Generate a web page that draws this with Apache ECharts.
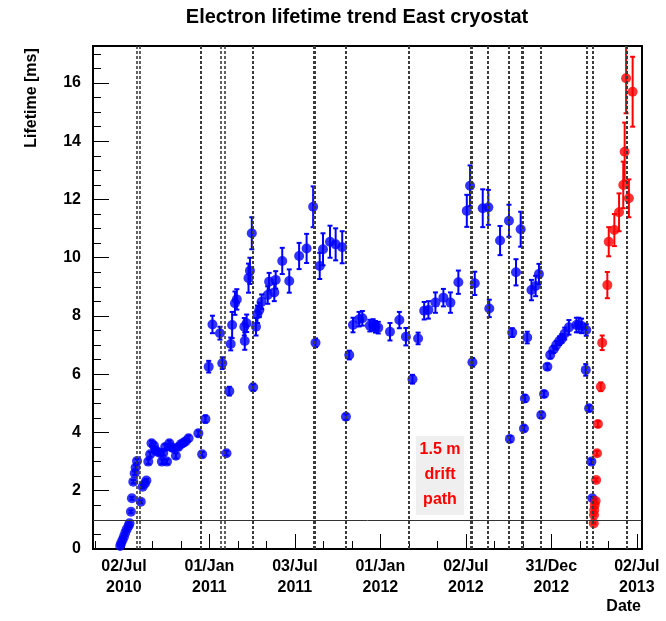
<!DOCTYPE html>
<html><head><meta charset="utf-8">
<script src="https://cdn.jsdelivr.net/npm/echarts@6/dist/echarts.min.js"></script>
<style>html,body{margin:0;padding:0;background:#fff}#c{width:666px;height:621px}</style>
</head><body><div id="c"></div>
<script>
// x values: days since 2010-07-02
const xTickDays = [0, 182.5, 365, 547.5, 730, 912.5, 1095];
const xTickLabels = ['02/Jul\n2010', '01/Jan\n2011', '03/Jul\n2011', '01/Jan\n2012', '02/Jul\n2012', '31/Dec\n2012', '02/Jul\n2013'];
const yTickValues = [0, 2, 4, 6, 8, 10, 12, 14, 16];

const blueDays = [-8,-6,-3,0,3,6,10,12,15,17,20,23,25,28,36,40,45,48,52,56,59,64,67,70,77,81,84,88,92,97,100,105,111,116,122,127,132,138,159,167,174,
  181,189,205,210,219,225,228,231,237,241,257,258,262,266,269,273,276,282,285,289,294,307,310,321,324,338,353,374,390,404,409,418,425,440,452,466,
  474,481,489,502,509,525,532,537,543,568,588,602,616,628,641,650,665,682,697,714,732,739,744,749,766,778,780,803,822,824,829,837,847,854,856,861,
  870,879,886,891,897,904,910,917,923,930,935,941,950,966,971,977,987,986,993,998,1000];
const blueLifetime = [0.10,0.20,0.31,0.42,0.56,0.68,0.79,0.88,1.28,1.74,2.31,2.60,2.80,3.02,1.62,2.14,2.25,2.35,3.00,3.25,3.63,3.55,3.40,3.35,3.30,3.00,3.30,3.50,3.00,3.63,3.50,3.46,3.20,3.50,3.60,3.65,3.70,3.80,3.97,3.25,4.46,
  6.26,7.71,7.41,6.38,3.29,5.42,7.04,7.69,8.44,8.57,7.63,7.14,7.75,9.30,9.55,10.84,5.55,7.63,8.06,8.21,8.49,8.72,9.18,8.81,9.24,9.89,9.20,10.06,10.32,11.75,7.08,9.72,10.29,10.55,10.46,10.36,
  4.54,6.66,7.69,7.89,7.92,7.67,7.69,7.63,7.60,7.46,7.86,7.29,5.83,7.23,8.18,8.21,8.46,8.63,8.46,9.16,11.61,12.47,6.41,9.12,11.70,11.73,8.26,10.59,11.27,3.78,7.43,9.50,10.98,4.14,5.17,7.26,
  8.89,9.03,9.44,4.60,5.32,6.26,6.66,6.85,7.00,7.15,7.23,7.40,7.61,7.69,7.69,7.66,7.52,6.15,4.83,3.00,1.74];
const blueError = [0.03,0.03,0.03,0.03,0.03,0.03,0.03,0.04,0.05,0.05,0.06,0.06,0.07,0.07,0.05,0.06,0.06,0.06,0.08,0.08,0.09,0.09,0.09,0.09,0.09,0.08,0.09,0.09,0.08,0.09,0.09,0.09,0.09,0.09,0.09,0.1,0.1,0.1,0.1,0.08,0.12,
  0.2,0.3,0.22,0.2,0.08,0.15,0.22,0.45,0.4,0.35,0.3,0.3,0.3,0.5,0.45,0.55,0.12,0.3,0.3,0.25,0.25,0.3,0.3,0.3,0.3,0.45,0.4,0.45,0.5,0.7,0.15,0.45,0.55,0.55,0.55,0.55,
  0.1,0.15,0.25,0.25,0.25,0.2,0.2,0.2,0.2,0.3,0.28,0.3,0.15,0.2,0.3,0.3,0.35,0.3,0.35,0.4,0.55,0.7,0.15,0.4,0.65,0.6,0.3,0.5,0.55,0.1,0.15,0.45,0.6,0.1,0.12,0.2,
  0.35,0.35,0.35,0.1,0.1,0.1,0.12,0.12,0.15,0.15,0.15,0.2,0.25,0.25,0.25,0.25,0.2,0.2,0.1,0.08,0.05];

const redDays = [1003,1003.5,1004,1005,1007,1008,1010,1012,1018,1021,1032,1035,1047,1057,1066,1069,1072,1078,1086];
const redLifetime = [0.88,1.17,1.34,1.51,1.65,2.37,3.29,4.29,5.57,7.08,9.06,10.55,10.95,11.56,12.50,13.64,16.16,12.04,15.70];
const redError = [0.03,0.04,0.04,0.05,0.05,0.06,0.08,0.1,0.15,0.25,0.45,0.5,0.55,0.65,0.8,1.0,1.2,0.65,1.2];

const dashedLineDays = [163.3, 274.3, 472.8, 608.3, 776.3, 821.8, 890.1, 987.2, 1001.1, 1073.7];
const pairedLineDays = [27.7, 34.2, 207.0, 215.6];
const thickLineDays = [405.6, 740.7, 849.5];
const driftLimit = 1.0;

const X_MIN = -66, X_MAX = 1106, Y_MAX = 17.27;
const FONT = '"Liberation Sans", Arial, Helvetica, sans-serif';
const minorXTicks = [];
for (let i = -1; i <= 18; i++) minorXTicks.push(i * 182.5 / 3);
const minorYTicks = [];
for (let v = 0; v <= 17; v += 0.5) minorYTicks.push(v);

function triples(d, v, e) { return d.map((x, i) => [x, v[i], e[i]]); }
function errRender(color) {
  return function (params, api) {
    const x = api.value(0), y = api.value(1), e = api.value(2);
    const top = api.coord([x, y + e]);
    const bot = api.coord([x, y - e]);
    const cap = 2.5;
    const st = { stroke: color, lineWidth: 2 };
    return { type: 'group', children: [
      { type: 'line', shape: { x1: top[0], y1: top[1], x2: bot[0], y2: bot[1] }, style: st },
      { type: 'line', shape: { x1: top[0] - cap, y1: top[1], x2: top[0] + cap, y2: top[1] }, style: st },
      { type: 'line', shape: { x1: bot[0] - cap, y1: bot[1], x2: bot[0] + cap, y2: bot[1] }, style: st }
    ]};
  };
}

const vLines = [];
dashedLineDays.forEach(d => vLines.push({ xAxis: d, lineStyle: { type: [3, 2], color: '#3a3a3a', width: 2 } }));
pairedLineDays.forEach(d => vLines.push({ xAxis: d, lineStyle: { type: [3, 2], color: '#3a3a3a', width: 1.6 } }));
thickLineDays.forEach(d => vLines.push({ xAxis: d, lineStyle: { type: [3, 2], color: '#3a3a3a', width: 3 } }));
vLines.push({ yAxis: driftLimit, lineStyle: { type: 'solid', color: '#333', width: 1 } });

const chart = echarts.init(document.getElementById('c'));
chart.setOption({
  animation: false,
  backgroundColor: '#fff',
  grid: { left: 93, top: 46, width: 549, height: 503, show: true, borderColor: '#000', borderWidth: 2, backgroundColor: '#fff' },
  xAxis: [{
    type: 'value', min: X_MIN, max: X_MAX, position: 'bottom',
    splitLine: { show: false },
    axisLine: { show: true, onZero: false, lineStyle: { color: '#000', width: 2 } },
    axisTick: { show: true, inside: true, length: 15, customValues: xTickDays, lineStyle: { color: '#000', width: 1 } },
    axisLabel: {
      customValues: xTickDays, margin: 7, color: '#000', fontFamily: FONT, fontWeight: 'bold', fontSize: 16, lineHeight: 21,
      formatter: v => { const i = xTickDays.findIndex(t => Math.abs(t - v) < 1e-6); return i >= 0 ? xTickLabels[i] : ''; }
    }
  }, {
    type: 'value', min: X_MIN, max: X_MAX, position: 'bottom', offset: 0,
    splitLine: { show: false }, axisLine: { show: false, onZero: false },
    axisTick: { show: true, inside: true, length: 8, customValues: minorXTicks, lineStyle: { color: '#000', width: 1 } },
    axisLabel: { show: false }
  }],
  yAxis: [{
    type: 'value', min: 0, max: Y_MAX, position: 'left',
    splitLine: { show: false },
    axisLine: { show: true, onZero: false, lineStyle: { color: '#000', width: 2 } },
    axisTick: { show: true, inside: true, length: 16, customValues: yTickValues, lineStyle: { color: '#000', width: 1 } },
    axisLabel: { customValues: yTickValues, margin: 12, color: '#000', fontFamily: FONT, fontWeight: 'bold', fontSize: 16 }
  }, {
    type: 'value', min: 0, max: Y_MAX, position: 'left', offset: 0,
    splitLine: { show: false }, axisLine: { show: false, onZero: false },
    axisTick: { show: true, inside: true, length: 8, customValues: minorYTicks, lineStyle: { color: '#000', width: 1 } },
    axisLabel: { show: false }
  }],
  graphic: [
    { type: 'text', x: 357, y: 17, z: 10, style: { text: 'Electron lifetime trend East cryostat', font: 'bold 20px ' + FONT, fill: '#000', align: 'center', verticalAlign: 'middle' } },
    { type: 'text', x: 32, y: 98, rotation: Math.PI / 2, z: 10, style: { text: 'Lifetime [ms]', font: 'bold 16px ' + FONT, fill: '#000', align: 'center', verticalAlign: 'middle' } },
    { type: 'text', x: 641, y: 607, z: 10, style: { text: 'Date', font: 'bold 16px ' + FONT, fill: '#000', align: 'right', verticalAlign: 'middle' } },
    { type: 'rect', shape: { x: 416, y: 436, width: 48, height: 79 }, z: 5, style: { fill: '#efefef' } },
    { type: 'text', x: 440, y: 475, z: 10, style: { text: '1.5 m\ndrift\npath', font: 'bold 16px ' + FONT, lineHeight: 25, fill: '#ff0000', align: 'center', verticalAlign: 'middle' } }
  ],
  series: [
    { type: 'line', data: [], z: 1, xAxisIndex: 0, yAxisIndex: 0, silent: true,
      markLine: { silent: true, symbol: 'none', label: { show: false }, animation: false, data: vLines } },
    { type: 'custom', name: 'blueErr', z: 2, xAxisIndex: 0, yAxisIndex: 0, clip: true, renderItem: errRender('#0000ff'), data: triples(blueDays, blueLifetime, blueError) },
    { type: 'custom', name: 'redErr', z: 2, xAxisIndex: 0, yAxisIndex: 0, clip: true, renderItem: errRender('#ff0000'), data: triples(redDays, redLifetime, redError) },
    { type: 'scatter', z: 3, symbol: 'circle', symbolSize: 10, itemStyle: { color: '#0000ff' }, data: blueDays.map((d, i) => [d, blueLifetime[i]]) },
    { type: 'scatter', z: 3, symbol: 'circle', symbolSize: 10, itemStyle: { color: '#ff0000' }, data: redDays.map((d, i) => [d, redLifetime[i]]) }
  ]
});
</script></body></html>
